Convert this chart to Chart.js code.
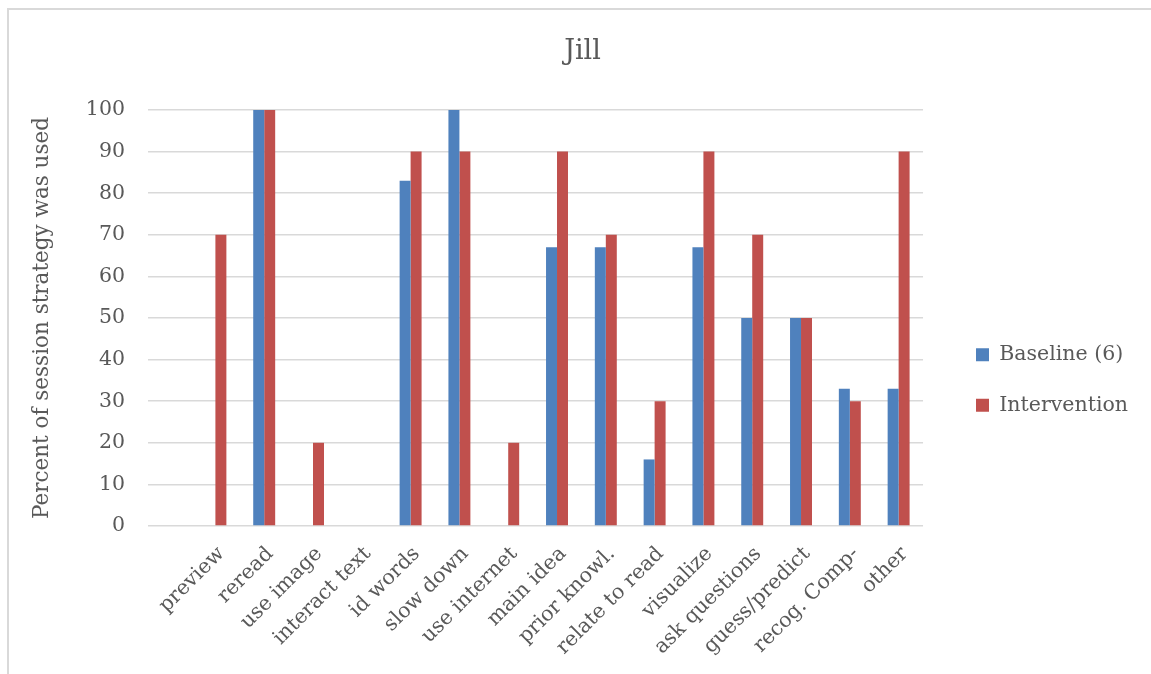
<!DOCTYPE html>
<html>
<head>
<meta charset="utf-8">
<script src="https://cdn.jsdelivr.net/npm/chart.js@4/dist/chart.umd.min.js"></script>
<style>
  html, body { margin: 0; padding: 0; background: #fff; overflow: hidden; }
  #frame {
    position: absolute; left: 7px; top: 8px; width: 1200px; height: 700px;
    border-top: 2px solid #d9d9d9; border-left: 2px solid #d9d9d9;
  }
  #wrap { position: absolute; left: 0; top: 0; width: 1151px; height: 674px; }
</style>
</head>
<body>
<div id="frame"></div>
<div id="wrap"><canvas id="myChart" width="1151" height="674"></canvas></div>
<script>
const categories = ['preview', 'reread', 'use image', 'interact text', 'id words', 'slow down',
  'use internet', 'main idea', 'prior knowl.', 'relate to read', 'visualize', 'ask questions',
  'guess/predict', 'recog. Comp-', 'other'];
const baseline = [0, 100, 0, 0, 83, 100, 0, 67, 67, 16, 67, 50, 50, 33, 33];
const intervention = [70, 100, 20, 0, 90, 90, 20, 90, 70, 30, 90, 70, 50, 30, 90];
const yTicks = [0, 10, 20, 30, 40, 50, 60, 70, 80, 90, 100];

const serif = 'DejaVu Serif';
const textColor = '#595959';
const gridColor = '#d9d9d9';

// Excel places the title and legend a bit off the Chart.js defaults, move them after layout
const boxShift = {
  id: 'boxShift',
  afterLayout(chart) {
    const lg = chart.legend;
    lg.left += 23;
    lg.right += 23;
    lg.top += 43;
    lg.bottom += 43;
    const t = chart.titleBlock;
    t.left += 25;
    t.right += 25;
  },
};

const ctx = document.getElementById('myChart').getContext('2d');
const chart = new Chart(ctx, {
  type: 'bar',
  data: {
    labels: categories,
    datasets: [
      { label: 'Baseline (6)', data: baseline, backgroundColor: '#4F81BD' },
      { label: 'Intervention', data: intervention, backgroundColor: '#C0504D' },
    ],
  },
  options: {
    responsive: false,
    animation: false,
    categoryPercentage: 0.45,
    barPercentage: 1.0,
    layout: { padding: { left: 0, right: 36, top: 0, bottom: 0 } },
    plugins: {
      title: {
        display: true,
        text: 'Jill',
        color: textColor,
        font: { family: serif, size: 27, weight: 'normal' },
        padding: { top: 36, bottom: 41.6 },
      },
      legend: {
        position: 'right',
        labels: {
          color: textColor,
          font: { family: serif, size: 20.5 },
          boxWidth: 13,
          boxHeight: 13,
          padding: 30,
        },
      },
      tooltip: { enabled: false },
    },
    scales: {
      x: {
        grid: { display: false },
        border: { display: false },
        ticks: {
          color: textColor,
          font: { family: serif, size: 20.5 },
          minRotation: 45,
          maxRotation: 45,
          padding: 8,
          labelOffset: 6,
          autoSkip: false,
        },
        afterFit(scale) { scale.height = 148; },
      },
      y: {
        min: 0,
        max: 100,
        afterBuildTicks(scale) { scale.ticks = yTicks.map(v => ({ value: v })); },
        grid: { color: gridColor, lineWidth: 1.5, tickLength: 43, tickColor: gridColor },
        border: { display: false },
        ticks: {
          color: textColor,
          font: { family: serif, size: 20.5 },
          padding: 23,
        },
        title: {
          display: true,
          text: 'Percent of session strategy was used',
          color: textColor,
          font: { family: serif, size: 21.5 },
          padding: { top: 30, bottom: 0 },
        },
        afterFit(scale) { scale.width = 191; },
      },
    },
  },
  plugins: [boxShift],
});
</script>
</body>
</html>
